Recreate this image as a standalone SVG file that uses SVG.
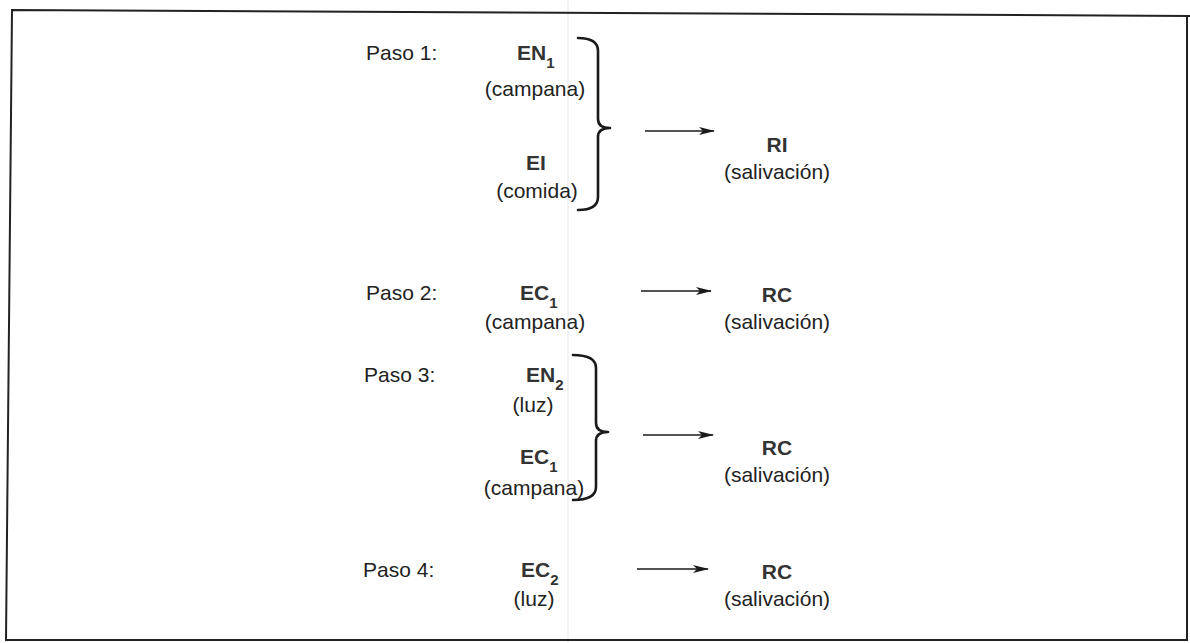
<svg xmlns="http://www.w3.org/2000/svg" width="1190" height="643" viewBox="0 0 1190 643">
<defs>
<style>
text{font-family:"Liberation Sans",Arial,sans-serif;font-size:21px;fill:#222}
.b{font-weight:bold;fill:#333}
.s{font-size:15px;font-weight:bold;fill:#333}
.m{text-anchor:middle}
.br{fill:none;stroke:#1a1a1a;stroke-width:2.6;stroke-linecap:round;stroke-linejoin:round}
.ar{fill:none;stroke:#1a1a1a;stroke-width:1.7}
</style>
<marker id="ah" viewBox="0 0 16 10" refX="15" refY="5" markerWidth="16" markerHeight="10" markerUnits="userSpaceOnUse" orient="auto">
<path d="M0,1 L16,5 L0,9 L4,5 Z" fill="#1a1a1a"/>
</marker>
</defs>
<rect width="1190" height="643" fill="#fff"/>
<line x1="568" y1="0" x2="568" y2="643" stroke="#f1f2f7" stroke-width="2"/>
<path d="M1190,16 L12,10 L6,640 L1187,640 L1187,16" fill="none" stroke="#222" stroke-width="2"/>

<g id="paso1">
<text x="366" y="60">Paso 1:</text>
<g id="en1"><text x="517" y="60" class="b">EN<tspan class="s" dy="8">1</tspan></text>
<text x="535" y="96" class="m">(campana)</text></g>
<g id="ei"><text x="536" y="170" class="b m">EI</text>
<text x="537" y="198" class="m">(comida)</text></g>
<path class="br" d="M578,38 Q598,38 598,51 L598,119 Q598,128 610,128 Q598,128 598,137 L598,197 Q598,210 578,210"/>
<g id="ri"><text x="777" y="152" class="b m">RI</text>
<text x="777" y="179" class="m">(salivación)</text></g>
</g>

<g id="paso2">
<text x="366" y="300">Paso 2:</text>
<g id="ec1a"><text x="520" y="300" class="b">EC<tspan class="s" dy="8">1</tspan></text>
<text x="535" y="329" class="m">(campana)</text></g>
<g id="rc2"><text x="777" y="302" class="b m">RC</text>
<text x="777" y="329" class="m">(salivación)</text></g>
</g>

<g id="paso3">
<text x="364" y="382">Paso 3:</text>
<g id="en2"><text x="526" y="382" class="b">EN<tspan class="s" dy="8">2</tspan></text>
<text x="533" y="412" class="m">(luz)</text></g>
<g id="ec1b"><text x="520" y="464" class="b">EC<tspan class="s" dy="8">1</tspan></text>
<text x="534" y="495" class="m">(campana)</text></g>
<path class="br" d="M573,355 Q596,355 596,368 L596,423 Q596,432 608,432 Q596,432 596,441 L596,487 Q596,500 573,500"/>
<g id="rc3"><text x="777" y="455" class="b m">RC</text>
<text x="777" y="482" class="m">(salivación)</text></g>
</g>

<g id="paso4">
<text x="363" y="577">Paso 4:</text>
<g id="ec2"><text x="521" y="577" class="b">EC<tspan class="s" dy="8">2</tspan></text>
<text x="534" y="606" class="m">(luz)</text></g>
<g id="rc4"><text x="777" y="579" class="b m">RC</text>
<text x="777" y="606" class="m">(salivación)</text></g>
</g>

<g id="connectors">
<line class="ar" x1="645" y1="131" x2="714" y2="131" marker-end="url(#ah)"/>
<line class="ar" x1="641" y1="291" x2="711" y2="291" marker-end="url(#ah)"/>
<line class="ar" x1="643" y1="435" x2="713" y2="435" marker-end="url(#ah)"/>
<line class="ar" x1="637" y1="569" x2="708" y2="569" marker-end="url(#ah)"/>
</g>
</svg>
